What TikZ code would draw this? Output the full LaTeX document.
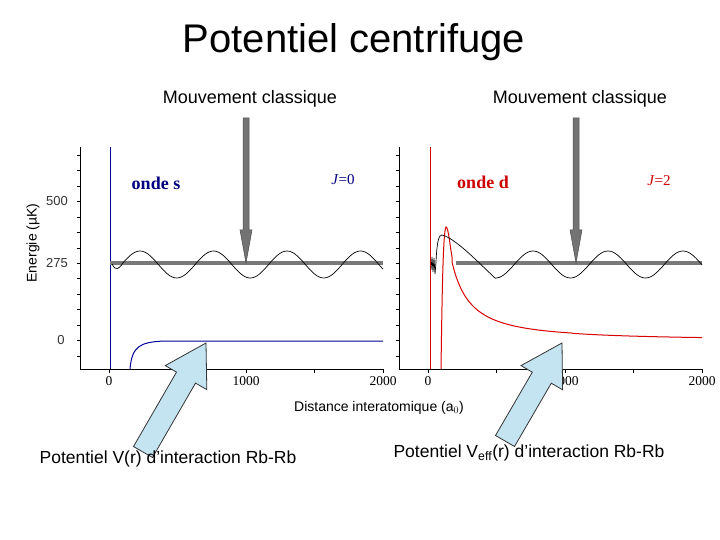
\documentclass[tikz,border=0pt]{standalone}
\usepackage{fontspec}
\setmainfont{Liberation Sans}
\newfontfamily\serifa{Liberation Serif}
\begin{document}
\begin{tikzpicture}[x=1pt,y=-1pt,
  axis/.style={line width=0.8pt,black},
  grey/.style={line width=4pt,color=gray!95!black},
  garrow/.style={fill=gray!90!black,draw=gray!60!black,line width=0.5pt},
  carrow/.style={fill=cyan!22!white!90!gray,draw=black!80,line width=0.8pt},
  lbl/.style={font=\fontsize{18}{20}\selectfont,inner sep=0pt},
  tk/.style={font=\fontsize{13}{15}\selectfont\color{black!80},inner sep=0pt},
  xt/.style={font=\serifa\fontsize{13.5}{15}\selectfont,inner sep=0pt}]
\useasboundingbox (0,0) rectangle (720,540);
\node[inner sep=0pt,font=\fontsize{40}{44}\selectfont] (title) at (354,42) {Potentiel centrifuge};
\node[lbl] (m1) at (250,99) {Mouvement classique};
\node[lbl] (m2) at (580,99) {Mouvement classique};
\node[tk,rotate=90,font=\fontsize{14}{16}\selectfont] (ylab) at (33,243) {Energie (µK)};
\node[tk] (t500) at (57,201) {500};
\node[tk] (t275) at (57,263) {275};
\node[tk] (t0) at (61,340) {0};
% axes
\foreach \ox/\oz in {80/109,399/428}{
  \draw[axis] (\ox,147) -- (\ox,369) -- (\oz+274,369);
  \foreach \yy in {155,170,186,201,217,232,248,263,278,294,309,325,340,356}
    \draw[line width=0.6pt] (\ox-3,\yy) -- (\ox,\yy);
  \foreach \xx in {0,68.5,137,205.5,274}
    \draw[line width=0.6pt] (\oz+\xx,369) -- (\oz+\xx,373);
  \node[xt] at (\oz,381) {0};
  \node[xt] at (\oz+137,381) {1000};
  \node[xt] at (\oz+274,381) {2000};
}
% left plot
\draw[blue!60!black,line width=1pt] (110,147) -- (110,369);
\draw[blue!60!black,line width=1pt] (130,369) .. controls (132,346) and (140,342) .. (165,341) -- (383,341);
\draw[grey] (110,263) -- (383,263);
\draw[black,line width=0.7pt] (112,264) .. controls (116,272) and (119,268) .. (122,264.5)
  -- plot[domain=122:383,samples=120,smooth] (\x,{264.5-13.5*cos(4.898*(\x-140))});
\node[font=\serifa\bfseries\fontsize{18}{20}\selectfont,text=blue!50!black,inner sep=0pt] (os) at (156,183) {onde s};
\node[font=\serifa\fontsize{15}{17}\selectfont,text=blue!50!black,inner sep=0pt] (j0) at (343,180) {\textit{J}=0};
% right plot
\draw[red!85!black,line width=1pt] (430,147) -- (430,369);
\draw[red!85!black,line width=1pt] (441,369) .. controls (442,300) and (443,230) .. (446,227)
  .. controls (448,226) and (450,245) .. (452,257)
  -- plot[domain=452:702,samples=150,smooth] (\x,{341-115*pow(18/(\x-428),1.3)});
\draw[grey] (456,263) -- (702,263);
\draw[black,line width=0.7pt] (431,270) -- (432,257) -- (433,272) -- (434,258) -- (435,274) -- (436,262)
  .. controls (437,240) and (439,235) .. (442,235)
  .. controls (455,238) and (478,262) .. (495,278)
  -- plot[domain=495:702,samples=100,smooth] (\x,{264.5-13.5*cos(4.8*(\x-533))});
\node[font=\serifa\bfseries\fontsize{18}{20}\selectfont,text=red!80!black,inner sep=0pt] (od) at (483,182) {onde d};
\node[font=\serifa\fontsize{15}{17}\selectfont,text=red!80!black,inner sep=0pt] (j2) at (659,181) {\textit{J}=2};
% grey arrows
\foreach \ax in {246,576}{
  \draw[garrow] (\ax-3,118) -- (\ax+3,118) -- (\ax+3,230) -- (\ax+6,230) -- (\ax,263) -- (\ax-6,230) -- (\ax-3,230) -- cycle;
}
% cyan arrows
\draw[carrow] (133.5,446.5) -- (176.5,372.1) -- (165.2,365.6) -- (206,343) -- (206.8,389.6) -- (195.5,383.1) -- (152.5,457.5) -- cycle;
\draw[carrow] (495.5,435.5) -- (532.3,372.2) -- (521.0,365.6) -- (562,343) -- (562.6,389.8) -- (551.3,383.2) -- (514.5,446.5) -- cycle;
\node[tk,font=\fontsize{14}{16}\selectfont] (dist) at (379,408) {Distance interatomique (a$_0$)};
\node[lbl,font=\fontsize{17.5}{20}\selectfont] (pv) at (168,459) {Potentiel V(r) d'interaction Rb-Rb};
\node[lbl,font=\fontsize{17.5}{20}\selectfont] (pve) at (529,453) {Potentiel V$_{\mathrm{eff}}$(r) d'interaction Rb-Rb};
\end{tikzpicture}
\end{document}
